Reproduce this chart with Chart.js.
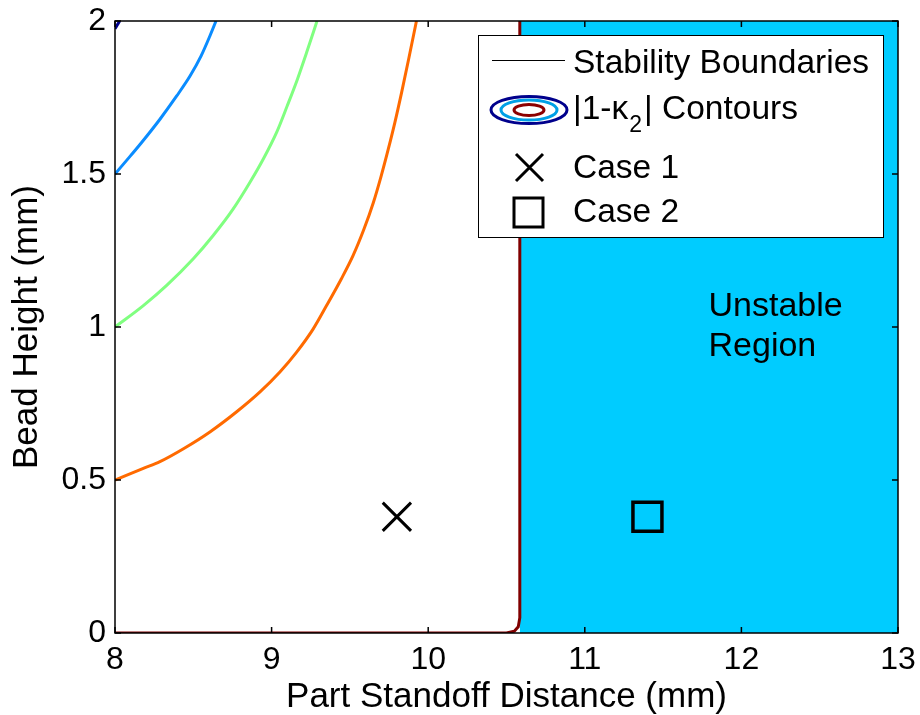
<!DOCTYPE html>
<html>
<head>
<meta charset="utf-8">
<script src="https://cdn.jsdelivr.net/npm/chart.js@4"></script>
<style>
    body { margin: 0; background: #fff; overflow: hidden; }
    canvas { display: block; }
</style>
</head>
<body>
<canvas id="StabilityChart" width="920" height="715"></canvas>
<script>
// contour |1-k2| levels
const blueX = [8, 8.1, 8.17, 8.287, 8.394, 8.479, 8.55, 8.606, 8.645];
const blueY = [1.5, 1.56, 1.603, 1.679, 1.755, 1.82, 1.886, 1.951, 2.0];

const greenX = [8, 8.181, 8.33, 8.5, 8.627, 8.755, 8.862, 8.947, 9.032, 9.1, 9.165, 9.223, 9.29];
const greenY = [1.0, 1.07, 1.136, 1.223, 1.299, 1.386, 1.473, 1.549, 1.636, 1.723, 1.81, 1.896, 2.0];

const orangeX = [8, 8.181, 8.287, 8.44, 8.606, 8.777, 8.926, 9.053, 9.16, 9.266, 9.351, 9.445,
    9.52, 9.59, 9.65, 9.70, 9.745, 9.787, 9.83, 9.875, 9.925];
const orangeY = [0.5, 0.538, 0.56, 0.603, 0.657, 0.723, 0.788, 0.853, 0.918, 0.994, 1.07, 1.157,
    1.233, 1.32, 1.407, 1.494, 1.581, 1.668, 1.766, 1.875, 2.0];

const darkBlueX = [8, 8.03];
const darkBlueY = [1.975, 2.0];

// stability boundary
const boundaryX = [8, 10.5, 10.55, 10.575, 10.585, 10.585];
const boundaryY = [0, 0, 0.006, 0.02, 0.05, 2];

// unstable region (right of boundary)
const unstableX = [10.585, 13];
const unstableY = [2, 2];

const case1 = [{x: 9.8, y: 0.38}];
const case2 = [{x: 11.4, y: 0.38}];

const xTicks = [8, 9, 10, 11, 12, 13];
const yTicks = [0, 0.5, 1, 1.5, 2];

const FONT = '"Liberation Sans", Arial, sans-serif';

function pts(xs, ys) {
    return xs.map((x, i) => ({x: x, y: ys[i]}));
}

function curve(label, xs, ys, color, width, order, smooth) {
    return {
        type: 'line',
        label: label,
        data: pts(xs, ys),
        borderColor: color,
        borderWidth: width,
        pointRadius: 0,
        cubicInterpolationMode: smooth ? 'monotone' : 'default',
        tension: 0,
        fill: false,
        order: order
    };
}

// MATLAB style box with inward ticks + in-plot legend and text
const matlabFrame = {
    id: 'matlabFrame',
    afterDatasetsDraw(chart) {
        const ctx = chart.ctx;
        const a = chart.chartArea;
        const xs = chart.scales.x;
        const ys = chart.scales.y;
        ctx.save();

        // Unstable Region label
        ctx.fillStyle = '#000';
        ctx.font = '34px ' + FONT;
        ctx.textAlign = 'left';
        ctx.textBaseline = 'alphabetic';
        const tx = xs.getPixelForValue(11.79);
        const ty = ys.getPixelForValue(1.035);
        ctx.fillText('Unstable', tx, ty);
        ctx.fillText('Region', tx, ty + 40);

        // frame
        ctx.strokeStyle = '#000';
        ctx.lineWidth = 1.5;
        ctx.strokeRect(a.left, a.top, a.right - a.left, a.bottom - a.top);
        const tl = 6;
        ctx.beginPath();
        xTicks.forEach(v => {
            const p = xs.getPixelForValue(v);
            ctx.moveTo(p, a.bottom); ctx.lineTo(p, a.bottom - tl);
            ctx.moveTo(p, a.top); ctx.lineTo(p, a.top + tl);
        });
        yTicks.forEach(v => {
            const p = ys.getPixelForValue(v);
            ctx.moveTo(a.left, p); ctx.lineTo(a.left + tl, p);
            ctx.moveTo(a.right, p); ctx.lineTo(a.right - tl, p);
        });
        ctx.stroke();

        // legend
        const L = 478, T = 35, W = 405, H = 202;
        ctx.fillStyle = '#fff';
        ctx.fillRect(L, T, W, H);
        ctx.strokeStyle = '#000';
        ctx.lineWidth = 1;
        ctx.strokeRect(L + 0.5, T + 0.5, W, H);

        const textX = 573;
        ctx.fillStyle = '#000';
        ctx.font = '33.5px ' + FONT;
        ctx.textBaseline = 'middle';

        // stability boundaries
        ctx.beginPath();
        ctx.lineWidth = 1;
        ctx.moveTo(492, 60.5); ctx.lineTo(565, 60.5);
        ctx.stroke();
        ctx.fillText('Stability Boundaries', textX, 64);

        // contours icon
        const cx = 529, cy = 110;
        [[38, 13.5, '#00008c'], [28, 10, '#00a0e6'], [15, 5.5, '#8c0000']].forEach(e => {
            ctx.beginPath();
            ctx.lineWidth = 3;
            ctx.strokeStyle = e[2];
            ctx.ellipse(cx, cy, e[0], e[1], 0, 0, Math.PI * 2);
            ctx.stroke();
        });
        ctx.fillStyle = '#000';
        ctx.fillText('|1-\u03BA', textX, 110);
        const w = ctx.measureText('|1-\u03BA').width;
        ctx.font = '23px ' + FONT;
        ctx.fillText('2', textX + w + 1, 126);
        const w2 = ctx.measureText('2').width;
        ctx.font = '33.5px ' + FONT;
        ctx.fillText('| Contours', textX + w + w2 + 3, 110);

        // case markers
        ctx.strokeStyle = '#000';
        ctx.lineWidth = 3;
        ctx.beginPath();
        ctx.moveTo(516, 154); ctx.lineTo(543, 181);
        ctx.moveTo(543, 154); ctx.lineTo(516, 181);
        ctx.stroke();
        ctx.fillText('Case 1', textX, 169);
        ctx.strokeRect(514, 198, 29, 29);
        ctx.fillText('Case 2', textX, 213);

        ctx.restore();
    }
};

const data_Stability = {
    datasets: [
        {
            label: 'Case 1',
            data: case1,
            pointStyle: 'crossRot',
            pointRadius: 20,
            pointHoverRadius: 20,
            borderColor: '#000',
            borderWidth: 3,
            pointBorderWidth: 3,
            order: 0
        },
        {
            label: 'Case 2',
            data: case2,
            pointStyle: 'rect',
            pointRadius: 20.5,
            pointHoverRadius: 20.5,
            borderColor: '#000',
            backgroundColor: 'rgba(0,0,0,0)',
            pointBorderWidth: 3.5,
            order: 1
        },
        curve('Stability Boundaries', boundaryX, boundaryY, '#800000', 3, 2, false),
        curve('Contour 1', orangeX, orangeY, '#ff6a00', 3, 3, true),
        curve('Contour 2', greenX, greenY, '#80ff80', 3, 4, true),
        curve('Contour 3', blueX, blueY, '#0a8cff', 3, 5, true),
        curve('Contour 4', darkBlueX, darkBlueY, '#00008c', 3, 6, false),
        {
            type: 'line',
            label: 'Unstable Region',
            data: pts(unstableX, unstableY),
            borderWidth: 0,
            borderColor: 'rgba(0,0,0,0)',
            backgroundColor: '#00ccff',
            pointRadius: 0,
            fill: 'origin',
            order: 10
        }
    ]
};

const config_Stability = {
    type: 'scatter',
    data: data_Stability,
    plugins: [matlabFrame],
    options: {
        responsive: false,
        animation: false,
        events: [],
        layout: {
            autoPadding: false,
            padding: {left: 0, top: 21, right: 22, bottom: 0}
        },
        scales: {
            x: {
                type: 'linear',
                min: 8,
                max: 13,
                afterFit: (s) => { s.height = 82; s.paddingLeft = 0; s.paddingRight = 0; },
                afterBuildTicks: (s) => { s.ticks = xTicks.map(v => ({value: v})); },
                grid: {display: false, drawTicks: false},
                border: {display: false},
                ticks: {
                    color: '#000',
                    padding: 11,
                    callback: (v) => String(v),
                    font: {family: FONT, size: 32, lineHeight: 1}
                },
                title: {
                    display: true,
                    text: 'Part Standoff Distance (mm)',
                    color: '#000',
                    padding: {top: 0, bottom: 0},
                    font: {family: FONT, size: 35, lineHeight: 1}
                }
            },
            y: {
                type: 'linear',
                min: 0,
                max: 2,
                afterFit: (s) => { s.width = 115; s.paddingTop = 0; s.paddingBottom = 0; },
                afterBuildTicks: (s) => { s.ticks = yTicks.map(v => ({value: v})); },
                grid: {display: false, drawTicks: false},
                border: {display: false},
                ticks: {
                    color: '#000',
                    padding: 9,
                    callback: (v) => String(v),
                    font: {family: FONT, size: 32, lineHeight: 1}
                },
                title: {
                    display: true,
                    text: 'Bead Height (mm)',
                    color: '#000',
                    padding: {top: 10, bottom: 0},
                    font: {family: FONT, size: 35, lineHeight: 1}
                }
            }
        },
        plugins: {
            legend: {display: false},
            tooltip: {enabled: false}
        }
    }
};

const myChart_Stability = new Chart(
    document.getElementById('StabilityChart'),
    config_Stability
);
</script>
</body>
</html>
